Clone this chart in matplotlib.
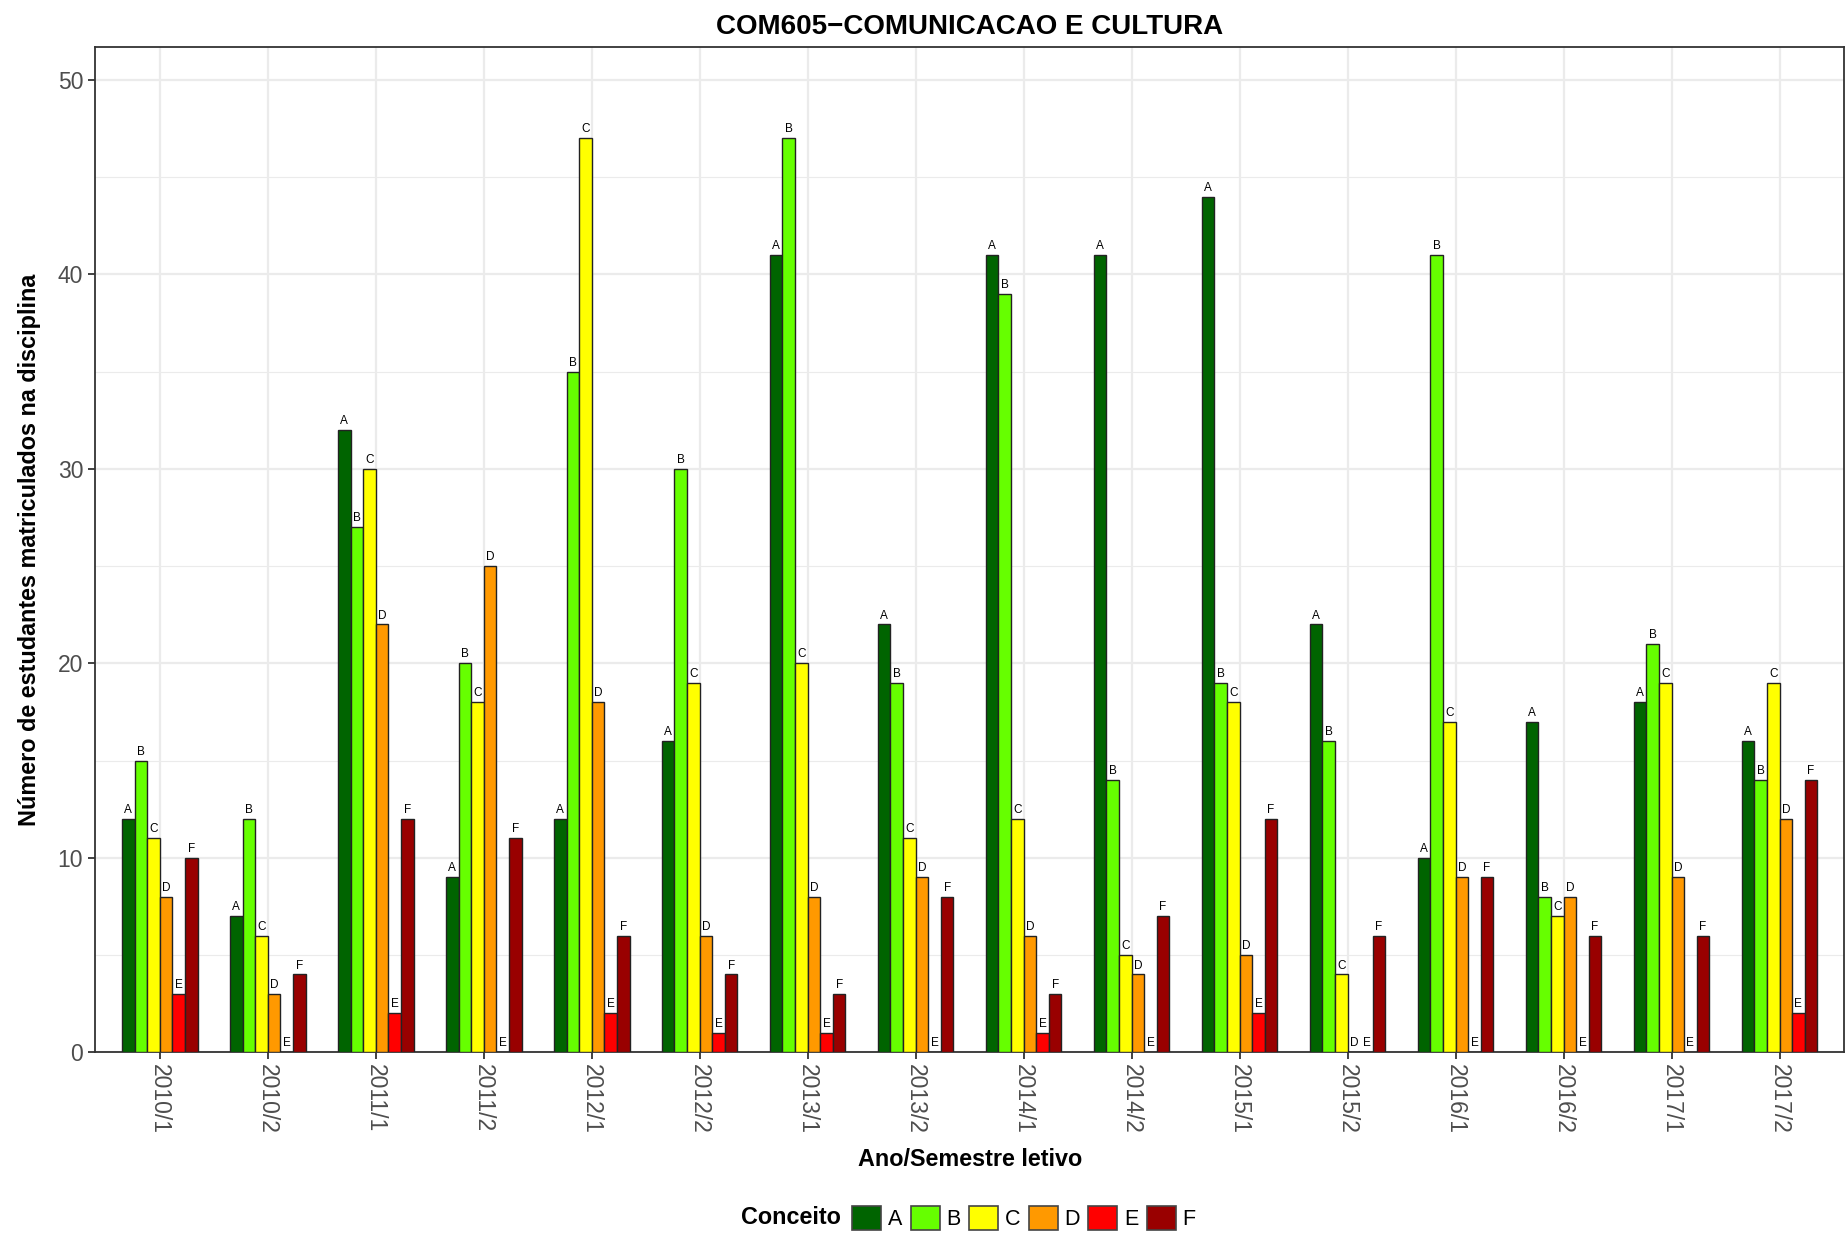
import numpy as np
import matplotlib
matplotlib.use("Agg")
import matplotlib.pyplot as plt
from matplotlib.patches import Patch
from matplotlib.offsetbox import HPacker

plt.rcParams["font.family"] = ["Liberation Sans", "DejaVu Sans"]

semestres = ["2010/1", "2010/2", "2011/1", "2011/2", "2012/1", "2012/2",
             "2013/1", "2013/2", "2014/1", "2014/2", "2015/1", "2015/2",
             "2016/1", "2016/2", "2017/1", "2017/2"]
conceitos = ["A", "B", "C", "D", "E", "F"]

conceito_A = [12, 7, 32, 9, 12, 16, 41, 22, 41, 41, 44, 22, 10, 17, 18, 16]
conceito_B = [15, 12, 27, 20, 35, 30, 47, 19, 39, 14, 19, 16, 41, 8, 21, 14]
conceito_C = [11, 6, 30, 18, 47, 19, 20, 11, 12, 5, 18, 4, 17, 7, 19, 19]
conceito_D = [8, 3, 22, 25, 18, 6, 8, 9, 6, 4, 5, 0, 9, 8, 9, 12]
conceito_E = [3, 0, 2, 0, 2, 1, 1, 0, 1, 0, 2, 0, 0, 0, 0, 2]
conceito_F = [10, 4, 12, 11, 6, 4, 3, 8, 3, 7, 12, 6, 9, 6, 6, 14]

cores = ["#006400", "#66FF00", "#FFFF00", "#FF9900", "#FF0000", "#990000"]

series = [conceito_A, conceito_B, conceito_C, conceito_D, conceito_E, conceito_F]

fig = plt.figure(figsize=(18.48, 12.35), dpi=100)
ax = fig.add_axes([0.0514, 0.148, 0.9466, 0.814])

x = np.arange(len(semestres))
largura = 0.7 / len(conceitos)

for i, (vals, cor, letra) in enumerate(zip(series, cores, conceitos)):
    pos = x - 0.35 + largura * (i + 0.5)
    ax.bar(pos, vals, width=largura, color=cor, edgecolor="#222222",
           linewidth=1.0, zorder=3)
    for px, v in zip(pos, vals):
        ax.text(px, v + 0.15, letra, ha="center", va="bottom",
                fontsize=8.5, color="black", zorder=4)

ax.set_xlim(-0.6, len(semestres) - 0.4)
ax.set_ylim(0, 51.7)
ax.set_xticks(x)
ax.set_xticklabels(semestres, rotation=270, ha="center", va="top",
                   fontsize=16.5, color="#4D4D4D")
ax.set_yticks([0, 10, 20, 30, 40, 50])
ax.set_yticks([5, 15, 25, 35, 45], minor=True)
ax.tick_params(axis="y", labelsize=16.5, labelcolor="#4D4D4D")
ax.tick_params(which="major", length=5, width=1.3, color="#333333")
ax.tick_params(which="minor", length=0)

ax.grid(which="major", color="#EBEBEB", linewidth=1.6, zorder=0)
ax.grid(which="minor", axis="y", color="#EBEBEB", linewidth=0.8, zorder=0)
ax.set_axisbelow(True)
for s in ax.spines.values():
    s.set_color("#333333")
    s.set_linewidth(1.3)

ax.set_title("COM605\u2212COMUNICACAO E CULTURA", fontsize=20,
             fontweight="bold", pad=9)
ax.set_xlabel("Ano/Semestre letivo", fontsize=16.8, fontweight="bold",
              labelpad=10)
ax.set_ylabel("Número de estudantes matriculados na disciplina", fontsize=16.8,
              fontweight="bold", labelpad=12)

handles = [Patch(facecolor=c, edgecolor="#444444", linewidth=1.2) for c in cores]
leg = fig.legend(handles, conceitos, loc="center", bbox_to_anchor=(0.524, 0.014),
                 ncol=6, frameon=False, fontsize=15.5, title="Conceito",
                 handlelength=1.35, handleheight=1.35, handletextpad=0.3,
                 columnspacing=0.4)
leg.get_title().set_fontweight("bold")
leg.get_title().set_fontsize(16.8)
# title on the left side of the keys, like ggplot
box = leg._legend_box
box._children = [HPacker(children=box._children, align="center", pad=0, sep=8)]

fig.savefig("out.png", dpi=100)
